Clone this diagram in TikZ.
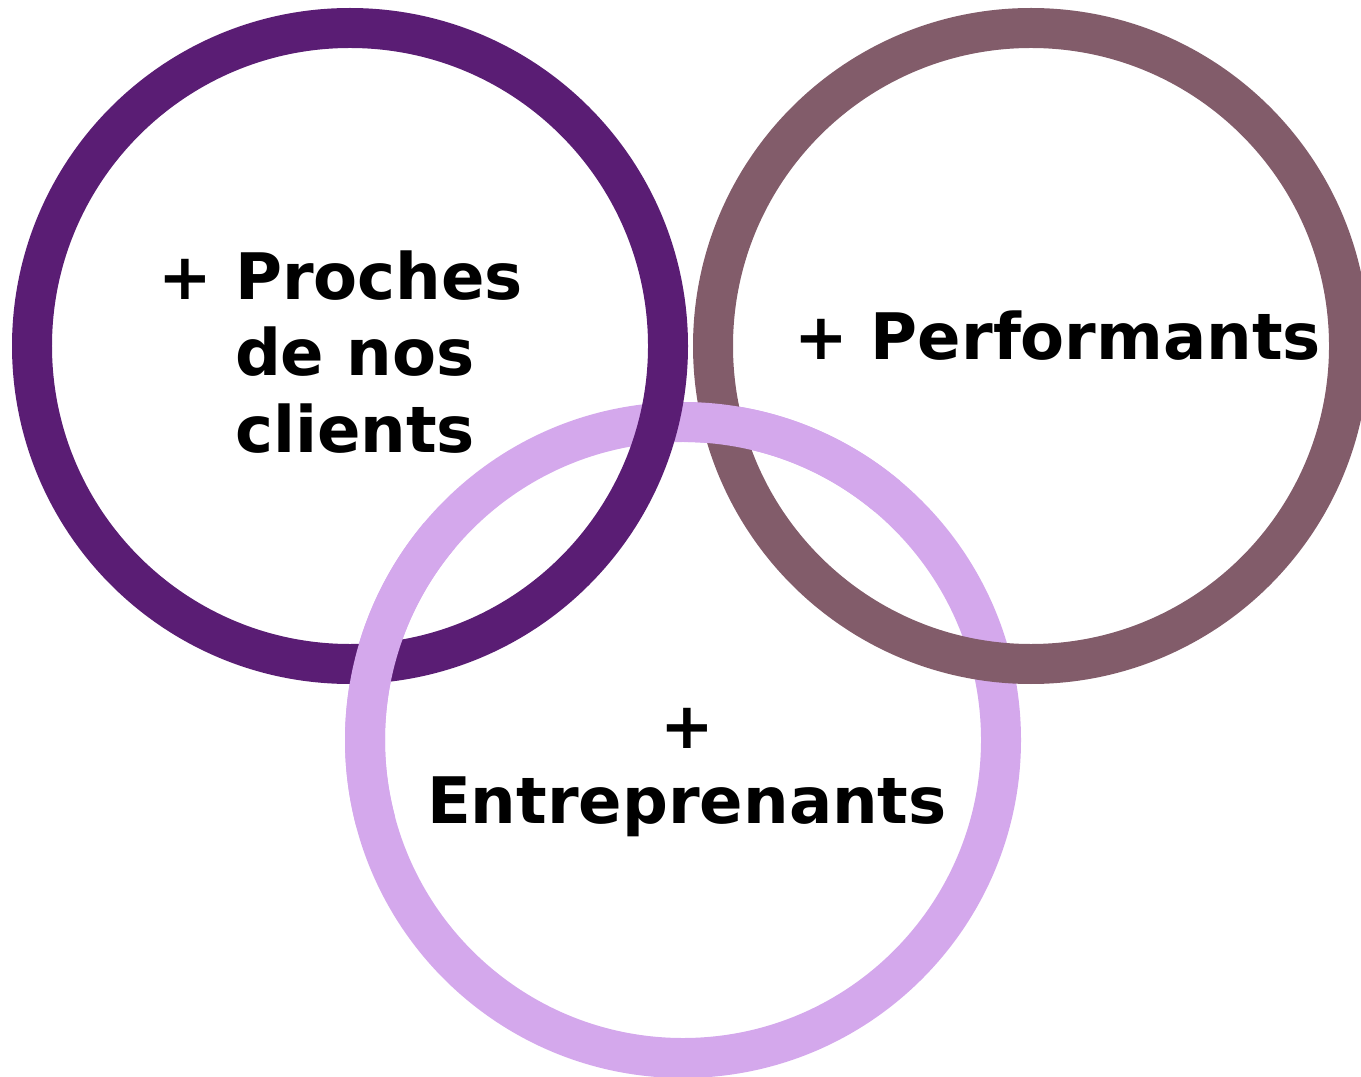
\documentclass[tikz,border=0pt]{standalone}
\usepackage{fontspec}
\setmainfont{DejaVu Sans}
\usetikzlibrary{positioning,calc}
\definecolor{violet1}{HTML}{5A1D74}
\definecolor{mauve1}{HTML}{825C6A}
\definecolor{lilas1}{HTML}{D4A8EC}
\tikzset{
  ring/.style={line width=0.8cm},
  label/.style={inner sep=0pt, font=\fontsize{36.5}{43.5}\selectfont\bfseries, align=left}
}
\begin{document}
\begin{tikzpicture}[x=0.02cm, y=0.02cm]
    \useasboundingbox (0,0) rectangle (1361,1076);
    \clip (0,0) rectangle (1361,1076);
    \coordinate (C1) at (350,730);
    \coordinate (C2) at (1031,730);
    \coordinate (C3) at (683,336);
    \draw[ring, lilas1] (C3) circle [radius=318];
    \draw[ring, violet1] (C1) circle [radius=318];
    \draw[ring, mauve1] (C2) circle [radius=318];

    % weave the light ring over the others
    \draw[ring, lilas1] ($(C3)+(140:318)$) arc [start angle=140, end angle=195, radius=318];
    \draw[ring, lilas1] ($(C3)+(50:318)$) arc [start angle=50, end angle=89, radius=318];

    \node[label] (Proches) at (341,724) {+ Proches\\\phantom{+ }de nos\\\phantom{+ }clients};
    \node[label, anchor=base] (Perf) at (1058,716) {+ Performants};
    \node[label, align=center, anchor=base] (Plus) at (687,328) {+};
    \node[label, anchor=base] (Entre) at (687,253) {Entreprenants};
\end{tikzpicture}
\end{document}
